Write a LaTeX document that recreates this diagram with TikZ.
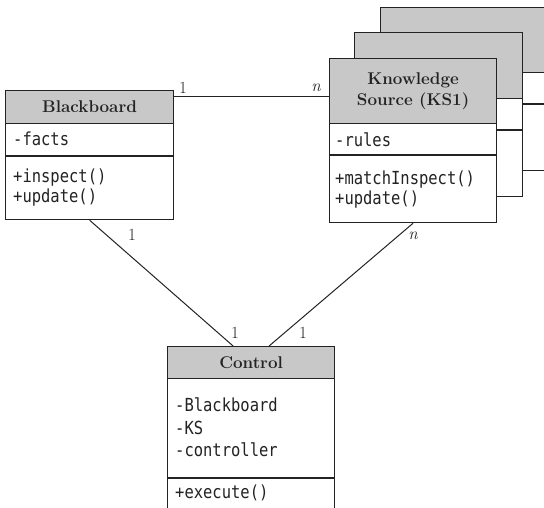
\documentclass[tikz,border=0pt]{standalone}
\usepackage{fontspec}
\setmonofont[FakeStretch=0.86]{DejaVu Sans Mono}
\definecolor{hdrgray}{RGB}{200,200,200}
\definecolor{ink}{RGB}{35,35,35}
\newcommand{\monof}{\fontsize{18}{20}\selectfont\ttfamily}
\newcommand{\titlef}{\fontsize{17}{21}\selectfont\bfseries}
\newcommand{\multf}{\fontsize{17}{18}\selectfont}
\tikzset{
  umlbox/.style={draw=ink, fill=white, line width=1.2pt, inner sep=0pt, anchor=north west},
  hdr/.style={draw=ink, fill=hdrgray, line width=1.2pt, inner sep=0pt, anchor=north west},
  sep/.style={draw=ink, line width=1.2pt},
  conn/.style={draw=ink, line width=1pt},
  mono/.style={font=\monof, anchor=west, inner sep=0pt, text=ink},
  ttl/.style={font=\titlef, align=center, inner sep=0pt, text=ink},
  mult/.style={font=\multf, inner sep=0pt, text=ink}
}
\begin{document}
\begin{tikzpicture}[x=1pt,y=-1pt]
\useasboundingbox (0,0) rectangle (544,508);
\clip (0,0) rectangle (544,508);

% third (back) knowledge source
\node[umlbox, minimum width=167pt, minimum height=163pt] (ks3) at (380,7) {};
\node[hdr, minimum width=167pt, minimum height=65pt] (ks3h) at (380,7) {};
\draw[sep] ([yshift=-97pt]ks3.north west) -- ([yshift=-97pt]ks3.north east);

% second knowledge source
\node[umlbox, minimum width=168pt, minimum height=164pt] (ks2) at (354,32) {};
\node[hdr, minimum width=168pt, minimum height=66pt] (ks2h) at (354,32) {};
\draw[sep] ([yshift=-98pt]ks2.north west) -- ([yshift=-98pt]ks2.north east);

% first knowledge source
\node[umlbox, minimum width=167pt, minimum height=164pt] (ks1) at (329,58) {};
\node[hdr, minimum width=167pt, minimum height=65pt] (ks1h) at (329,58) {};
\draw[sep] ([yshift=-97pt]ks1.north west) -- ([yshift=-97pt]ks1.north east);
\node[ttl] (ks1t) at (ks1h.center) {Knowledge\\Source (KS1)};
\node[mono] (ks1a) at ([xshift=6pt,yshift=-82pt]ks1.north west) {-rules};
\node[mono] (ks1m1) at ([xshift=6pt,yshift=-122pt]ks1.north west) {+matchInspect()};
\node[mono] (ks1m2) at ([xshift=6pt,yshift=-142pt]ks1.north west) {+update()};

% blackboard
\node[umlbox, minimum width=168pt, minimum height=129pt] (bb) at (5,90) {};
\node[hdr, minimum width=168pt, minimum height=33pt] (bbh) at (5,90) {};
\draw[sep] ([yshift=-66pt]bb.north west) -- ([yshift=-66pt]bb.north east);
\node[ttl] (bbt) at (bbh.center) {Blackboard};
\node[mono] (bba) at ([xshift=8pt,yshift=-49pt]bb.north west) {-facts};
\node[mono] (bbm1) at ([xshift=8pt,yshift=-88pt]bb.north west) {+inspect()};
\node[mono] (bbm2) at ([xshift=8pt,yshift=-108pt]bb.north west) {+update()};

% control
\node[umlbox, minimum width=167pt, minimum height=190pt] (ctrl) at (167,346) {};
\node[hdr, minimum width=167pt, minimum height=32pt] (ctrlh) at (167,346) {};
\draw[sep] ([yshift=-132pt]ctrl.north west) -- ([yshift=-132pt]ctrl.north east);
\node[ttl] (ctrlt) at (ctrlh.center) {Control};
\node[mono] (ca1) at ([xshift=8pt,yshift=-59pt]ctrl.north west) {-Blackboard};
\node[mono] (ca2) at ([xshift=8pt,yshift=-82pt]ctrl.north west) {-KS};
\node[mono] (ca3) at ([xshift=8pt,yshift=-104pt]ctrl.north west) {-controller};
\node[mono] (cm1) at ([xshift=8pt,yshift=-147pt]ctrl.north west) {+execute()};

% connectors
\draw[conn] ([yshift=-7pt]bb.north east) -- ([yshift=-39pt]ks1.north west);
\draw[conn] (bb.south) -- ([xshift=-18pt]ctrl.north);
\draw[conn] (ks1.south) -- ([xshift=18pt]ctrl.north);

% multiplicities
\node[mult] (m1) at (183,88) {1};
\node[mult] (m2) at (316,88) {\itshape n};
\node[mult] (m3) at (132,235) {1};
\node[mult] (m4) at (235,333) {1};
\node[mult] (m5) at (413,236) {\itshape n};
\node[mult] (m6) at (303,333) {1};
\end{tikzpicture}
\end{document}
